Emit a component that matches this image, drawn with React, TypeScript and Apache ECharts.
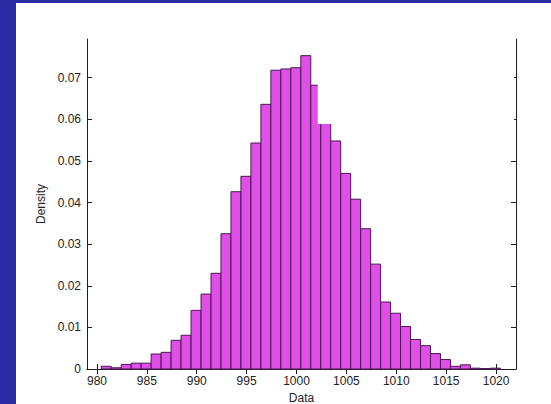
import { useEffect, useRef } from "react";
import * as echarts from "echarts";

// Histogram bins: left edge of first bin and common bin width
const binStart = 980.43;
const binWidth = 1.0;

// Density of each bin, left to right
const densities = [
  0.00065, 0.0003, 0.0011, 0.0014, 0.0014, 0.0036, 0.004, 0.0069, 0.0081, 0.0141,
  0.018, 0.023, 0.0325, 0.0426, 0.0463, 0.0543, 0.0636, 0.0718, 0.0721, 0.0724,
  0.0753, 0.0682, 0.0605, 0.0548, 0.047, 0.0408, 0.0337, 0.0252, 0.0161, 0.0134,
  0.0102, 0.0071, 0.0056, 0.0037, 0.0023, 0.00065, 0.001, 0.0002, 0.0001, 0.0002,
];

const xTicks = [980, 985, 990, 995, 1000, 1005, 1010, 1015, 1020];
const yTicks = [0, 0.01, 0.02, 0.03, 0.04, 0.05, 0.06, 0.07];
const xTitle = "Data";
const yTitle = "Density";

// Blank white block over the upper right of the plot, in data units:
// [xFrom, xTo, yFrom, yTo]
const blankBlock = [1002.13, 1021.8, 0.0589, 0.0802];

const FONT = "'Liberation Sans', Arial, sans-serif";
const AXIS = "#1e1e1e";
const TEXT = "#222";
const FS = 12;

const plain = (v: number) => String(v);

export default function App() {
  const ref = useRef<HTMLDivElement>(null);

  useEffect(() => {
    if (!ref.current) return;
    const chart = echarts.init(ref.current, undefined, { renderer: "svg" });

    const bins = densities.map((d, i) => [
      binStart + i * binWidth,
      binStart + (i + 1) * binWidth,
      d,
    ]);

    const xCommon = {
      type: "value" as const,
      min: 979,
      max: 1022,
      splitLine: { show: false },
      axisLine: { show: true, lineStyle: { color: AXIS, width: 1 } },
      axisTick: {
        show: true,
        inside: true,
        length: 5,
        customValues: xTicks,
        lineStyle: { color: AXIS },
      },
    };
    const yCommon = {
      type: "value" as const,
      min: 0,
      max: 0.0793,
      splitLine: { show: false },
      axisLine: { show: true, lineStyle: { color: AXIS, width: 1 } },
      axisTick: {
        show: true,
        inside: true,
        length: 5,
        customValues: yTicks,
        lineStyle: { color: AXIS },
      },
    };

    chart.setOption({
      animation: false,
      backgroundColor: "transparent",
      grid: {
        left: 71,
        top: 36,
        width: 429,
        height: 330,
        containLabel: false,
        outerBoundsMode: "none",
      },
      xAxis: [
        {
          ...xCommon,
          position: "bottom",
          axisLabel: {
            customValues: xTicks,
            formatter: plain,
            margin: 6,
            color: TEXT,
            fontSize: FS,
            fontFamily: FONT,
          },
          name: xTitle,
          nameLocation: "middle",
          nameGap: 23,
          nameTextStyle: { color: TEXT, fontSize: FS, fontFamily: FONT },
        },
        { ...xCommon, position: "top", axisLabel: { show: false } },
      ],
      yAxis: [
        {
          ...yCommon,
          position: "left",
          axisLabel: {
            customValues: yTicks,
            formatter: plain,
            margin: 6,
            color: TEXT,
            fontSize: FS,
            fontFamily: FONT,
          },
          name: yTitle,
          nameLocation: "middle",
          nameRotate: 90,
          nameGap: 32,
          nameTextStyle: { color: TEXT, fontSize: FS, fontFamily: FONT },
        },
        { ...yCommon, position: "right", axisLabel: { show: false } },
      ],
      series: [
        {
          type: "custom",
          xAxisIndex: 0,
          yAxisIndex: 0,
          encode: { x: [0, 1], y: 2 },
          data: bins,
          z: 2,
          renderItem: (_params: any, api: any) => {
            const top = api.coord([api.value(0), api.value(2)]);
            const bottom = api.coord([api.value(1), 0]);
            return {
              type: "rect",
              shape: {
                x: top[0],
                y: top[1],
                width: bottom[0] - top[0],
                height: bottom[1] - top[1],
              },
              style: { fill: "#e04fe8", stroke: "#4a1650", lineWidth: 1 },
            };
          },
        },
        {
          type: "custom",
          xAxisIndex: 0,
          yAxisIndex: 0,
          encode: { x: [0, 1], y: [2, 3] },
          data: [blankBlock],
          z: 20,
          silent: true,
          clip: false,
          renderItem: (_params: any, api: any) => {
            const a = api.coord([api.value(0), api.value(3)]);
            const b = api.coord([api.value(1), api.value(2)]);
            return {
              type: "rect",
              shape: { x: a[0], y: a[1], width: b[0] - a[0], height: b[1] - a[1] },
              style: { fill: "#ffffff" },
            };
          },
        },
      ],
    });

    return () => chart.dispose();
  }, []);

  return (
    <div
      style={{
        position: "absolute",
        left: 0,
        top: 0,
        width: 551,
        height: 404,
        background: "#2a2aa3",
      }}
    >
      <div
        ref={ref}
        style={{
          position: "absolute",
          left: 16,
          top: 3,
          width: 535,
          height: 401,
          background: "#ffffff",
        }}
      />
    </div>
  );
}
